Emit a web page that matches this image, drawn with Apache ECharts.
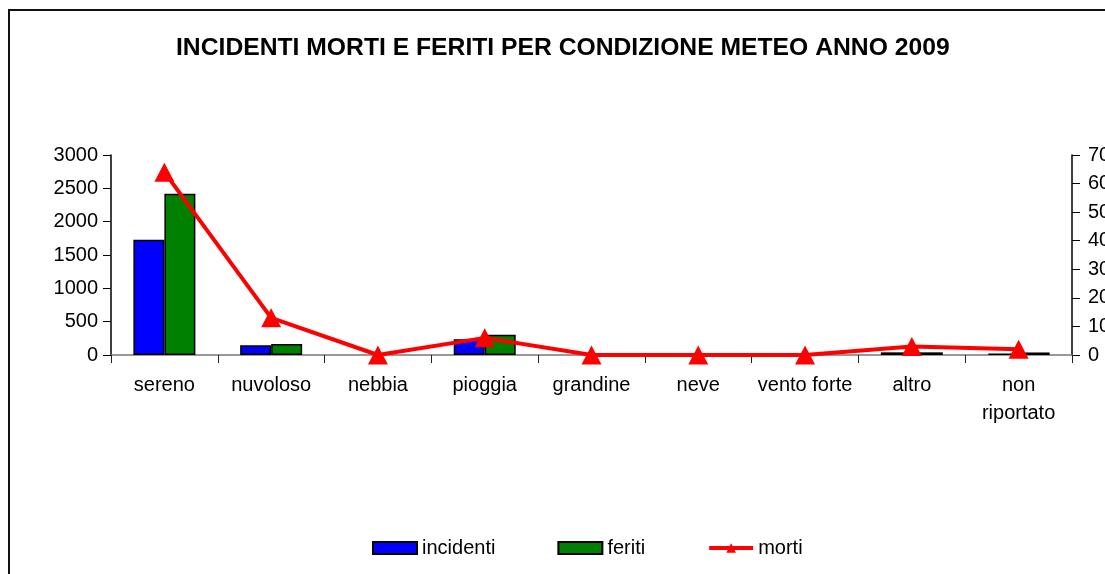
<!DOCTYPE html>
<html>
<head>
<meta charset="utf-8">
<script src="https://cdn.jsdelivr.net/npm/echarts@6/dist/echarts.min.js"></script>
<style>
html, body { margin: 0; padding: 0; overflow: hidden; background: #fff; }
#frame {
  position: absolute; left: 8px; top: 9px;
  width: 1200px; height: 700px;
  border: 2px solid #111;
}
#chart { position: absolute; left: 0; top: 0; width: 1105px; height: 574px; }
</style>
</head>
<body>
<div id="frame"></div>
<div id="chart"></div>
<script>
// dati
var categorie = ['sereno', 'nuvoloso', 'nebbia', 'pioggia', 'grandine', 'neve', 'vento forte', 'altro', 'non\nriportato'];
var incidenti = [1730, 145, 0, 235, 0, 0, 0, 40, 20];
var feriti = [2420, 165, 0, 305, 0, 0, 0, 40, 38];
var morti = [64, 13, 0, 6, 0, 0, 0, 3, 2];

// barre a zero non si vedono
function senzaZeri(arr) {
  return arr.map(function (v) { return v === 0 ? null : v; });
}
// niente separatore delle migliaia
function numero(v) { return String(v); }

var chart = echarts.init(document.getElementById('chart'));
var fontF = 'Liberation Sans, Arial, sans-serif';

chart.setOption({
  animation: false,
  title: {
    text: 'INCIDENTI MORTI E FERITI PER CONDIZIONE METEO ANNO 2009',
    left: 171,
    top: 31,
    textStyle: { fontFamily: fontF, fontSize: 24.7, fontWeight: 'bold', color: '#000' }
  },
  legend: {
    bottom: 11,
    left: 367,
    itemGap: 62,
    itemWidth: 44,
    itemHeight: 12,
    textStyle: { fontFamily: fontF, fontSize: 20, color: '#000' },
    data: [
      { name: 'incidenti', icon: 'rect' },
      { name: 'feriti', icon: 'rect' },
      { name: 'morti', itemStyle: { color: '#ff0000' }, lineStyle: { color: '#ff0000', width: 4 } }
    ]
  },
  grid: { left: 111, right: 33, top: 155, bottom: 219, outerBoundsMode: 'none' },
  xAxis: {
    type: 'category',
    data: categorie,
    axisLine: { lineStyle: { color: '#777', width: 1.5 } },
    axisTick: { show: true, length: 8, lineStyle: { color: '#222' } },
    axisLabel: {
      interval: 0,
      margin: 16,
      fontFamily: fontF, fontSize: 20, color: '#000', lineHeight: 28
    }
  },
  yAxis: [
    {
      type: 'value', min: 0, max: 3000, interval: 500,
      splitLine: { show: false },
      axisLine: { show: true, lineStyle: { color: '#000', width: 1.5 } },
      axisTick: { show: true, length: 8, lineStyle: { color: '#000' } },
      axisLabel: { fontFamily: fontF, fontSize: 20, color: '#000', margin: 13, formatter: numero }
    },
    {
      type: 'value', min: 0, max: 70, interval: 10,
      splitLine: { show: false },
      axisLine: { show: true, lineStyle: { color: '#000', width: 1.5 } },
      axisTick: { show: true, length: 8, lineStyle: { color: '#000' } },
      axisLabel: { fontFamily: fontF, fontSize: 20, color: '#000', margin: 16, formatter: numero }
    }
  ],
  series: [
    {
      name: 'incidenti', type: 'bar', data: senzaZeri(incidenti),
      barWidth: 31, barGap: '0%',
      itemStyle: { color: '#0000ff', borderColor: '#000', borderWidth: 1.5 }
    },
    {
      name: 'feriti', type: 'bar', data: senzaZeri(feriti),
      barWidth: 31, barGap: '0%',
      itemStyle: { color: '#008000', borderColor: '#000', borderWidth: 1.5 }
    },
    {
      name: 'morti', type: 'line', yAxisIndex: 1, data: morti,
      symbol: 'triangle', symbolSize: [20, 19],
      lineStyle: { color: '#ff0000', width: 4 },
      itemStyle: { color: '#ff0000' },
      z: 5
    }
  ]
});
</script>
</body>
</html>
